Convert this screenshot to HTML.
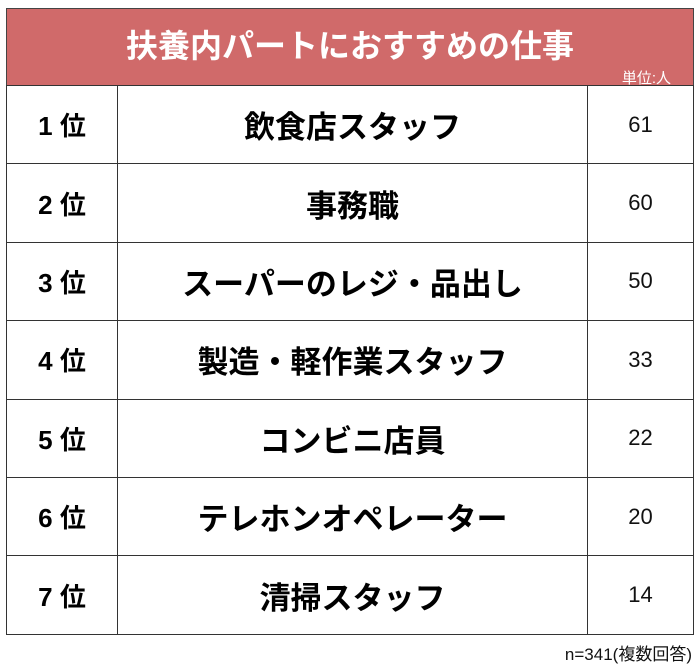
<!DOCTYPE html>
<html><head><meta charset="utf-8"><style>
body{margin:0;width:700px;height:672px;background:#fff;font-family:"Liberation Sans","Noto Sans CJK JP",sans-serif;position:relative;overflow:hidden}
.hd{position:absolute;left:6px;top:8px;width:686px;height:77px;background:#d06a6a;border:1px solid #444;border-bottom:none}
.tt{position:absolute;left:0;width:100%;top:18px;text-align:center;color:#fff;font-weight:bold;font-size:32px;line-height:38px}
.un{position:absolute;right:22px;top:58px;color:#fff;font-size:15px}
table{position:absolute;left:6px;top:85px;border-collapse:collapse;width:688px}
td{border:1.5px solid #333;height:77.4px;padding:0;text-align:center}
td.r{width:110px;font-weight:bold;font-size:26px}
td.n{font-weight:bold;font-size:31px}
td.v{width:105px;font-size:22px;color:#111}
.ft{position:absolute;right:8px;top:640px;font-size:17px;color:#111}
</style></head><body>
<div class="hd"><div class="tt">扶養内パートにおすすめの仕事</div><div class="un">単位:人</div></div>
<table>
<tr><td class="r">1 位</td><td class="n">飲食店スタッフ</td><td class="v">61</td></tr>
<tr><td class="r">2 位</td><td class="n">事務職</td><td class="v">60</td></tr>
<tr><td class="r">3 位</td><td class="n">スーパーのレジ・品出し</td><td class="v">50</td></tr>
<tr><td class="r">4 位</td><td class="n">製造・軽作業スタッフ</td><td class="v">33</td></tr>
<tr><td class="r">5 位</td><td class="n">コンビニ店員</td><td class="v">22</td></tr>
<tr><td class="r">6 位</td><td class="n">テレホンオペレーター</td><td class="v">20</td></tr>
<tr><td class="r">7 位</td><td class="n">清掃スタッフ</td><td class="v">14</td></tr>
</table>
<div class="ft">n=341(複数回答)</div>
</body></html>
